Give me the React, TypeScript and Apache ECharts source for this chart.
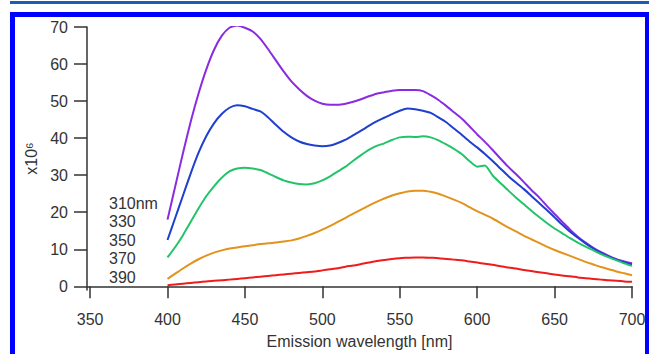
import React, { useEffect, useRef } from "react";
import * as echarts from "echarts";

const wavelengths: number[] = [];
for (let w = 400; w <= 700; w += 5) wavelengths.push(w);

const seriesNames = ["310nm", "330", "350", "370", "390"];
const seriesColors = ["#8a2be2", "#1f3fcf", "#22c46a", "#e3921c", "#ee1c1c"];

const s310 = [18, 27, 36, 44.5, 52, 58.5, 63.8, 67.6, 69.8, 70.4, 69.8, 68.8, 66.8, 64, 61, 58, 55.3, 53.2, 51.4, 50.1, 49.3, 49, 49, 49.3, 49.8, 50.5, 51.3, 52, 52.4, 52.8, 53, 53, 53, 52.7, 51.6, 50.3, 48.7, 47, 45.3, 43.2, 41, 39, 36.8, 34.5, 32.3, 30.3, 28.2, 26, 24, 21.7, 19.5, 17.4, 15.3, 13.4, 11.8, 10.4, 9.2, 8.2, 7.3, 6.7, 6.2];
const s330 = [12.5, 18.5, 24.5, 30.5, 36, 40.5, 44, 46.5, 48.2, 48.9, 48.6, 47.9, 47.2, 45.6, 43.6, 41.7, 40.2, 39.1, 38.4, 38, 37.8, 38, 38.7, 39.6, 40.8, 42, 43.3, 44.5, 45.5, 46.5, 47.4, 48, 47.8, 47.4, 46.8, 45.6, 44.3, 42.6, 40.9, 39.1, 37.5, 35.7, 33.8, 31.8, 29.8, 28, 26.3, 24.4, 22.5, 20.6, 18.6, 16.6, 14.7, 13.1, 11.6, 10.2, 9, 8, 7.2, 6.5, 5.9];
const s350 = [7.8, 10.6, 13.8, 17.4, 21, 24.3, 27, 29.3, 31, 31.8, 32, 31.8, 31.4, 30.5, 29.5, 28.6, 28, 27.6, 27.5, 27.8, 28.6, 29.7, 31, 32.3, 33.9, 35.4, 36.8, 37.9, 38.6, 39.5, 40.2, 40.4, 40.3, 40.5, 40.2, 39.4, 38.3, 37.1, 35.7, 33.8, 32.3, 32.6, 29.9, 27.9, 25.9, 24, 22.2, 20.4, 18.7, 17.1, 15.6, 14.3, 13, 11.8, 10.7, 9.7, 8.7, 7.8, 7, 6.2, 5.5];
const s370 = [2, 3.4, 4.8, 6.1, 7.3, 8.3, 9.1, 9.7, 10.2, 10.5, 10.8, 11.1, 11.4, 11.6, 11.8, 12.1, 12.4, 12.9, 13.6, 14.4, 15.3, 16.3, 17.4, 18.5, 19.6, 20.7, 21.8, 22.8, 23.7, 24.5, 25.1, 25.6, 25.8, 25.8, 25.5, 25, 24.2, 23.4, 22.5, 21.4, 20.3, 19.3, 18.3, 17.1, 15.9, 14.8, 13.7, 12.7, 11.7, 10.7, 9.8, 9, 8.2, 7.4, 6.6, 5.9, 5.2, 4.6, 4, 3.5, 3];
const s390 = [0.3, 0.5, 0.7, 0.9, 1.1, 1.3, 1.5, 1.6, 1.8, 2.0, 2.2, 2.4, 2.6, 2.8, 3.0, 3.2, 3.4, 3.6, 3.8, 4.0, 4.3, 4.6, 4.9, 5.3, 5.6, 6.0, 6.4, 6.8, 7.1, 7.4, 7.6, 7.7, 7.8, 7.8, 7.7, 7.6, 7.4, 7.2, 7.0, 6.7, 6.4, 6.1, 5.8, 5.4, 5.1, 4.8, 4.4, 4.1, 3.8, 3.5, 3.2, 2.9, 2.7, 2.4, 2.2, 2.0, 1.8, 1.6, 1.5, 1.3, 1.2];
const seriesValues = [s310, s330, s350, s370, s390];

const xTicks = [350, 400, 450, 500, 550, 600, 650, 700];
const yTicks = [0, 10, 20, 30, 40, 50, 60, 70];

const xTitle = "Emission wavelength [nm]";
const yTitle = "x10⁶";

export default function App() {
  const ref = useRef<HTMLDivElement>(null);
  useEffect(() => {
    if (!ref.current) return;
    const chart = echarts.init(ref.current, null, { renderer: "svg" });
    const axisColor = "#333333";
    const font = "Liberation Sans, Arial, sans-serif";
    chart.setOption({
      animation: false,
      backgroundColor: "#ffffff",
      grid: { left: 87, right: 17, top: 27, bottom: 60 },
      xAxis: {
        type: "value",
        min: 348,
        max: 700,
        axisLine: { show: true, lineStyle: { color: axisColor, width: 1.5 } },
        axisTick: { show: true, length: 12, customValues: xTicks, lineStyle: { color: axisColor, width: 1.5 } },
        axisLabel: { customValues: xTicks, margin: 21, fontSize: 16, color: axisColor, fontFamily: font },
        splitLine: { show: false },
        name: xTitle,
        nameLocation: "middle",
        nameGap: 43,
        nameTextStyle: { fontSize: 16, color: axisColor, fontFamily: font },
      },
      yAxis: {
        type: "value",
        min: -1,
        max: 70,
        axisLine: { show: true, lineStyle: { color: axisColor, width: 1.5 } },
        axisTick: { show: true, length: 13, customValues: yTicks, lineStyle: { color: axisColor, width: 1.5 } },
        axisLabel: { customValues: yTicks, margin: 19, fontSize: 16, color: axisColor, fontFamily: font },
        splitLine: { show: false },
        name: yTitle,
        nameLocation: "middle",
        nameGap: 45,
        nameRotate: 90,
        nameTextStyle: { fontSize: 16, color: axisColor, fontFamily: font },
      },
      graphic: [
        { type: "rect", shape: { x: 12.5, y: 14.5, width: 635, height: 360 }, style: { fill: "none", stroke: "#0000ff", lineWidth: 5 }, silent: true },
        { type: "rect", shape: { x: 10, y: 1, width: 639, height: 3 }, style: { fill: "#1c5cb4" }, silent: true },
        ...seriesNames.map((n, i) => ({
          type: "text",
          left: 109,
          top: 195 + i * 18.5,
          style: { text: n, fontSize: 16, fill: axisColor, fontFamily: font },
          silent: true,
        })),
      ],
      series: seriesNames.map((n, i) => ({
        name: n,
        type: "line",
        data: wavelengths.map((w, j) => [w, seriesValues[i][j]]),
        showSymbol: false,
        smooth: 0.2,
        lineStyle: { color: seriesColors[i], width: 2 },
        itemStyle: { color: seriesColors[i] },
      })),
    });
    return () => chart.dispose();
  }, []);
  return <div ref={ref} style={{ position: "fixed", left: 0, top: 0, width: 649, height: 354 }} />;
}
